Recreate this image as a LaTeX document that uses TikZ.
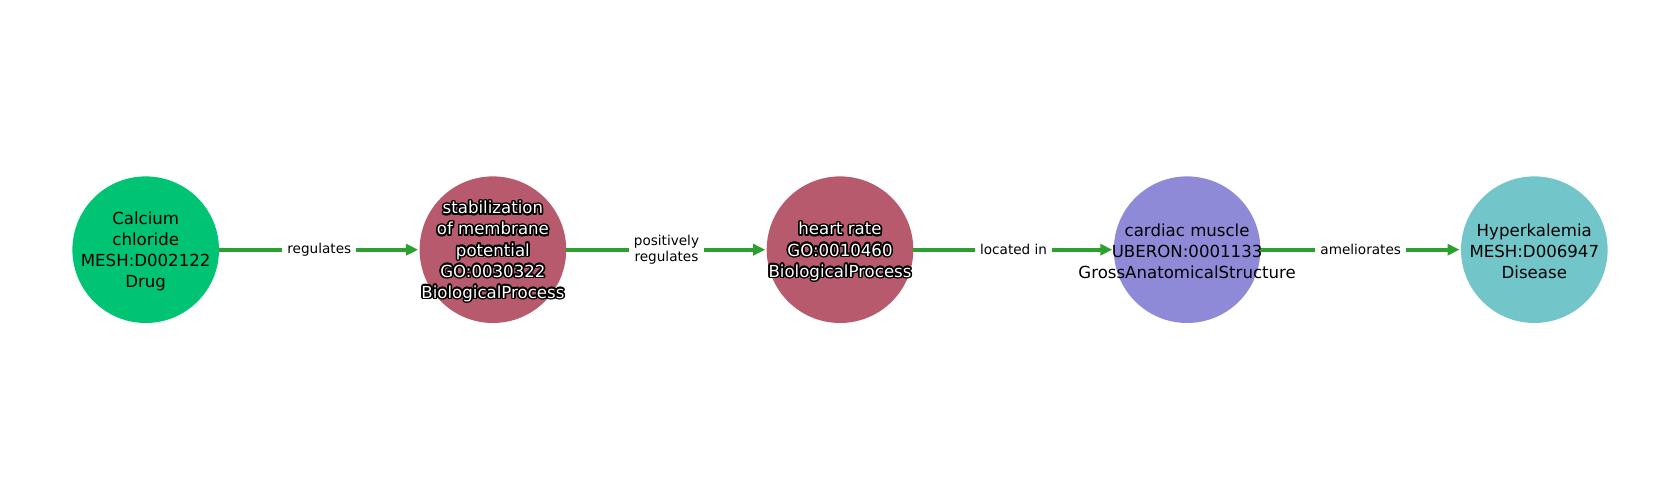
\documentclass[tikz,border=0pt]{standalone}
\usepackage{fontspec}
\setmainfont{DejaVu Sans}
\usetikzlibrary{arrows.meta}
\definecolor{cdrug}{HTML}{00C373}
\definecolor{cbio}{HTML}{B85A6E}
\definecolor{canat}{HTML}{8F8AD8}
\definecolor{cdis}{HTML}{72C6CA}
\definecolor{cedge}{HTML}{2CA02C}
\tikzset{
  ent/.style={circle,minimum size=146.6pt,inner sep=0pt,outer sep=0pt,draw=none},
  ntext/.style={align=center,inner sep=0pt,yshift=-1.8pt,font=\fontsize{16.6}{21.1}\selectfont},
  edge/.style={draw=cedge,line width=4pt,-{Triangle[length=12pt,width=11pt]},shorten >=1.5pt},
  lbl/.style={fill=white,align=center,inner xsep=5pt,inner ysep=2pt,text=black,font=\fontsize{13.6}{15.8}\selectfont},
}
\newcommand\olnode[2]{%
  \foreach \ang in {0,22.5,...,337.5}{\node[ntext,text=black] at ([shift={(\ang:1.6pt)}]#1) {#2};}
  \node[ntext,text=white] (#1-t) at (#1) {#2};}
\begin{document}
\begin{tikzpicture}
\useasboundingbox (0,0) rectangle (1680pt,500pt);
\node[ent,fill=cdrug] (a) at (145.7pt,250.3pt) {};
\node[ent,fill=cbio] (b) at (492.9pt,250.3pt) {};
\node[ent,fill=cbio] (c) at (840pt,250.3pt) {};
\node[ent,fill=canat] (d) at (1187.1pt,250.3pt) {};
\node[ent,fill=cdis] (e) at (1534.3pt,250.3pt) {};
\draw[edge] (a) -- node[lbl] (l1) {regulates} (b);
\draw[edge] (b) -- node[lbl] (l2) {positively\\regulates} (c);
\draw[edge] (c) -- node[lbl] (l3) {located in} (d);
\draw[edge] (d) -- node[lbl] (l4) {ameliorates} (e);
\node[ntext] (a-t) at (a) {Calcium\\chloride\\MESH:D002122\\Drug};
\olnode{b}{stabilization\\of membrane\\potential\\GO:0030322\\BiologicalProcess}
\olnode{c}{heart rate\\GO:0010460\\BiologicalProcess}
\node[ntext] (d-t) at (d) {cardiac muscle\\UBERON:0001133\\GrossAnatomicalStructure};
\node[ntext] (e-t) at (e) {Hyperkalemia\\MESH:D006947\\Disease};
\end{tikzpicture}
\end{document}
